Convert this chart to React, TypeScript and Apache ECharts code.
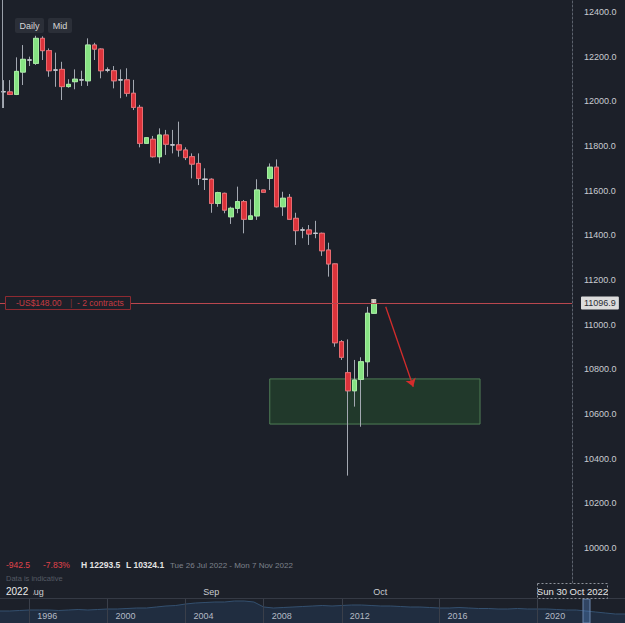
import React, { useEffect, useRef } from 'react';
import * as echarts from 'echarts';

// ---------- data ----------
const START_DATE = [2022, 6, 26]; // Tue 26 Jul 2022 (month is 0-based)
const SLOT_COUNT = 88; // daily slots (Saturdays skipped) shown on the axis
const CROSSHAIR_SLOT = 80; // month labels from here on sit under the crosshair box

const opens = [
  12043, 12042, 12031, 12131, 12185, 12170, 12282, 12227, 12140, 12143,
  12066, 12088, 12096, 12092, 12252, 12234, 12140, 12137, 12096, 12096,
  12036, 11973, 11812, 11830, 11752, 11849, 11805, 11805, 11782, 11752,
  11722, 11651, 11651, 11543, 11588, 11483, 11521, 11551, 11472, 11487,
  11603, 11655, 11705, 11528, 11570, 11476, 11424, 11424, 11409, 11409,
  11334, 11272, 10924, 10785, 10704, 10755, 10834, 11051,
];
const closes = [
  12043, 12031, 12134, 12188, 12185, 12282, 12227, 12137, 12140, 12066,
  12076, 12099, 12096, 12252, 12234, 12137, 12140, 12092, 12096, 12036,
  11973, 11812, 11837, 11752, 11849, 11808, 11805, 11782, 11748, 11719,
  11655, 11651, 11543, 11591, 11513, 11521, 11551, 11472, 11487, 11603,
  11593, 11705, 11528, 11566, 11472, 11421, 11424, 11406, 11409, 11331,
  11272, 10919, 10854, 10704, 10752, 10834, 11051, 11094.5,
];
const lows = [
  11970, 12028, 12028, 12073, 12158, 12163, 12185, 12110, 12065, 12006,
  12061, 12054, 12069, 12069, 12185, 12103, 12130, 12058, 12014, 12021,
  11961, 11794, 11810, 11748, 11722, 11760, 11767, 11752, 11737, 11655,
  11625, 11603, 11501, 11528, 11499, 11451, 11499, 11409, 11469, 11469,
  11593, 11603, 11525, 11487, 11469, 11357, 11387, 11357, 11387, 11308,
  11215, 10901, 10842, 10324.1, 10633, 10543, 10767, 11048,
];
const highs = [
  12095, 12095, 12197, 12252, 12200, 12293.5, 12291, 12237, 12218, 12177,
  12099, 12143, 12137, 12282, 12262, 12237, 12152, 12158, 12143, 12148,
  12096, 11984, 11840, 11845, 11879, 11872, 11872, 11909, 11794, 11767,
  11767, 11700, 11655, 11595, 11591, 11528, 11618, 11558, 11561, 11651,
  11603, 11722, 11740, 11595, 11585, 11501, 11436, 11446, 11465, 11412,
  11367, 11274, 10931, 10934, 10842, 10854, 11080, 11110,
];

const positionPrice = 11096.9;
const positionPnl = '-US$148.00';
const positionSize = '- 2 contracts';
const entryMarker = [57, 11106];

const zoneFrom = 41.0;
const zoneTo = 73.35;
const zoneTop = 10757;
const zoneBottom = 10555;
const arrowFrom = [58.84, 11080];
const arrowTo = [63.08, 10722];

const Y_MIN = 9843.3;
const Y_MAX = 12453.7;

const infoChange = '-942.5';
const infoChangePct = '-7.83%';
const infoHigh = 'H 12293.5';
const infoLow = 'L 10324.1';
const infoRange = 'Tue 26 Jul 2022 - Mon 7 Nov 2022';
const crosshairLabel = 'Sun 30 Oct 2022';

// navigator (long-history overview)
const navHeights = [
  12, 12, 12.5, 13, 13, 13, 12.5, 13, 13.5, 13, 13.5,
  14, 14, 14.5, 15, 15, 16, 17, 17.5,
  19, 20, 20.5, 21, 21, 22, 22, 21,
  16,
  15, 15.5, 16, 16.5, 17, 17.5, 17,
  17.5, 18, 18, 17.5, 17, 17, 16.5, 16, 16, 15.5,
  15, 15, 15.5, 15, 14.5, 14.5, 14, 14, 14.5, 14,
  14, 14, 13.5, 13, 13, 12, 11, 10, 9, 9,
];
const navYearIndex = [3, 11, 19, 27, 35, 45, 55];
const navYearLabel = ['1996', '2000', '2004', '2008', '2012', '2016', '2020'];

// ---------- styling ----------
const BG = '#1c2029';
const FONT = '"Liberation Sans", Arial, sans-serif';
const UP = '#86e283';
const UP_BORDER = '#a6eea0';
const DOWN = '#dc333b';
const DOWN_BORDER = '#e86a6f';
const WICK = '#a3a8b1';
const AXIS_TXT = '#c9ccd1';

const MONTHS = ['Jan', 'Feb', 'Mar', 'Apr', 'May', 'Jun', 'Jul', 'Aug', 'Sep', 'Oct', 'Nov', 'Dec'];

function buildDates(): Date[] {
  const out: Date[] = [];
  const d = new Date(Date.UTC(START_DATE[0], START_DATE[1], START_DATE[2]));
  while (out.length < SLOT_COUNT) {
    if (d.getUTCDay() !== 6) out.push(new Date(d.getTime()));
    d.setUTCDate(d.getUTCDate() + 1);
  }
  return out;
}

function txt(x: number, y: number, text: string, fill: string, size: number, opts: any = {}) {
  const align = opts.align || 'left';
  return {
    type: 'text',
    x,
    y,
    silent: true,
    z: opts.z || 50,
    style: {
      text,
      fill,
      fontSize: size,
      fontFamily: FONT,
      fontWeight: opts.weight || 'normal',
      align,
      textAlign: align,
      verticalAlign: 'middle',
      textVerticalAlign: 'middle',
      ...(opts.style || {}),
    },
  };
}

export default function App() {
  const ref = useRef<HTMLDivElement>(null);

  useEffect(() => {
    document.body.style.margin = '0';
    document.body.style.background = BG;
    if (!ref.current) return;
    const chart = echarts.init(ref.current, null, { renderer: 'svg' });

    const dates = buildDates();
    const cats = dates.map((d) => d.toISOString().slice(0, 10));
    const wickData = opens.map((o, i) => [o, closes[i], lows[i], highs[i]]);
    const bodyData = opens.map((o, i) => [
      o,
      closes[i],
      Math.min(o, closes[i]),
      Math.max(o, closes[i]),
    ]);

    const navCats = navHeights.map((_, i) => {
      const k = navYearIndex.indexOf(i);
      return k >= 0 ? navYearLabel[k] : '';
    });

    const graphic: any[] = [
      // left edge marker line
      { type: 'line', shape: { x1: 2.5, y1: 0, x2: 2.5, y2: 108 }, style: { stroke: '#9aa0a9', lineWidth: 1 }, z: 30, silent: true },
      // top-left buttons
      { type: 'rect', shape: { x: 15, y: 18, width: 29, height: 15, r: 2 }, style: { fill: '#2b2f38' }, z: 40, silent: true },
      txt(29.5, 25.5, 'Daily', '#d6d6d6', 9, { align: 'center' }),
      { type: 'rect', shape: { x: 48, y: 18, width: 24, height: 15, r: 2 }, style: { fill: '#2b2f38' }, z: 40, silent: true },
      txt(60, 25.5, 'Mid', '#d6d6d6', 9, { align: 'center' }),
      // position label
      { type: 'rect', shape: { x: 5.5, y: 296.5, width: 125, height: 13 }, style: { fill: BG, stroke: '#8e2a31', lineWidth: 1 }, z: 40, silent: true },
      txt(16, 303, positionPnl, '#c63b42', 8.5),
      txt(70, 303, '|', '#7a3036', 9),
      txt(77, 303, positionSize, '#c63b42', 8.5),
      // info row
      txt(6, 565, infoChange, '#e0434b', 8.5),
      txt(43, 565, infoChangePct, '#e0434b', 8.5),
      txt(81, 565, infoHigh, '#e3e3e3', 8.5, { weight: 'bold' }),
      txt(126, 565, infoLow, '#e3e3e3', 8.5, { weight: 'bold' }),
      txt(170, 565, infoRange, '#7d828c', 8),
      txt(6, 578, 'Data is indicative', '#545a64', 7.5),
      // year on the time axis
      txt(5, 591.5, '2022', '#ececec', 10, { z: 60, style: { backgroundColor: BG, padding: [1, 5, 1, 1] } }),
      // crosshair date box
      { type: 'rect', shape: { x: 537.5, y: 583.5, width: 70, height: 15 }, style: { fill: BG, stroke: '#8d929b', lineWidth: 1, lineDash: [2, 2] }, z: 55, silent: true },
      txt(572.5, 591, crosshairLabel, '#e6e6e6', 9.5, { align: 'center', z: 56 }),
      // navigator frame + window
      { type: 'line', shape: { x1: 0, y1: 598.5, x2: 625, y2: 598.5 }, style: { stroke: '#353a45', lineWidth: 1 }, z: 30, silent: true },
      { type: 'rect', shape: { x: 583, y: 599, width: 7, height: 24 }, style: { fill: 'rgba(90,140,210,0.35)', stroke: '#6a86ad', lineWidth: 1 }, z: 30, silent: true },
    ];

    chart.setOption({
      animation: false,
      backgroundColor: BG,
      textStyle: { fontFamily: FONT },
      grid: [
        { left: 0, right: 53, top: 0, bottom: 40 },
        { left: 0, right: 0, top: 599, height: 24 },
      ],
      xAxis: [
        {
          type: 'category',
          gridIndex: 0,
          data: cats,
          boundaryGap: true,
          axisLine: { show: false },
          axisTick: { show: false },
          splitLine: { show: false },
          axisLabel: {
            color: AXIS_TXT,
            fontSize: 9,
            margin: 4,
            interval: (i: number) =>
              i > 0 && i < CROSSHAIR_SLOT && dates[i].getUTCMonth() !== dates[i - 1].getUTCMonth(),
            formatter: (_v: string, i: number) => MONTHS[dates[i].getUTCMonth()],
          },
        },
        {
          type: 'value',
          gridIndex: 0,
          min: -0.5,
          max: SLOT_COUNT - 0.5,
          show: false,
        },
        {
          type: 'category',
          gridIndex: 1,
          data: navCats,
          boundaryGap: false,
          z: 10,
          axisLine: { show: false },
          axisTick: { show: false },
          axisLabel: {
            inside: true,
            color: '#b4bac4',
            fontSize: 9,
            margin: 3,
            align: 'left',
            padding: [0, 0, 0, 8],
            interval: (_i: number, v: string) => v !== '',
          },
          splitLine: {
            show: true,
            interval: (_i: number, v: string) => v !== '',
            lineStyle: { color: '#3a3f4a', width: 1 },
          },
        },
      ],
      yAxis: [
        {
          type: 'value',
          gridIndex: 0,
          position: 'right',
          min: Y_MIN,
          max: Y_MAX,
          splitNumber: 13,
          minInterval: 200,
          maxInterval: 200,
          axisLine: { show: true, onZero: false, lineStyle: { color: '#5c626d', type: [2, 2], width: 1 } },
          axisTick: { show: false },
          splitLine: { show: false },
          axisLabel: {
            color: AXIS_TXT,
            fontSize: 9,
            margin: 12,
            showMinLabel: false,
            showMaxLabel: false,
            formatter: (v: number) => (Math.abs(v % 200) < 0.01 ? v.toFixed(1) : ''),
          },
        },
        {
          type: 'value',
          gridIndex: 1,
          min: 0,
          max: 24,
          show: false,
        },
      ],
      series: [
        {
          type: 'line',
          xAxisIndex: 1,
          yAxisIndex: 0,
          data: [],
          silent: true,
          markArea: {
            silent: true,
            itemStyle: { color: '#21392b', borderColor: '#4f7e56', borderWidth: 1 },
            data: [[{ coord: [zoneFrom, zoneTop] }, { coord: [zoneTo, zoneBottom] }]],
          },
        },
        {
          type: 'candlestick',
          xAxisIndex: 0,
          yAxisIndex: 0,
          barWidth: 5,
          silent: true,
          data: wickData,
          itemStyle: {
            color: 'rgba(0,0,0,0)',
            color0: 'rgba(0,0,0,0)',
            borderColor: WICK,
            borderColor0: WICK,
            borderColorDoji: WICK,
            borderWidth: 1,
          },
        },
        {
          type: 'candlestick',
          xAxisIndex: 0,
          yAxisIndex: 0,
          barWidth: 5,
          silent: true,
          data: bodyData,
          itemStyle: {
            color: UP,
            color0: DOWN,
            borderColor: UP_BORDER,
            borderColor0: DOWN_BORDER,
            borderColorDoji: '#c9cdd3',
            borderWidth: 1,
          },
        },
        {
          type: 'scatter',
          xAxisIndex: 0,
          yAxisIndex: 0,
          silent: true,
          symbol: 'rect',
          symbolSize: [5, 4],
          itemStyle: { color: '#f1e6da' },
          data: [entryMarker],
          z: 4,
        },
        {
          type: 'line',
          xAxisIndex: 1,
          yAxisIndex: 0,
          data: [],
          silent: true,
          markLine: {
            silent: true,
            symbol: ['none', 'arrow'],
            symbolSize: [8, 8],
            label: { show: false },
            lineStyle: { color: '#d42c2c', width: 1.3, type: 'solid' },
            data: [[{ coord: arrowFrom }, { coord: arrowTo }]],
          },
        },
        {
          type: 'line',
          xAxisIndex: 1,
          yAxisIndex: 0,
          data: [],
          silent: true,
          markLine: {
            silent: true,
            symbol: ['none', 'none'],
            lineStyle: { color: '#b9474e', width: 1, type: 'solid' },
            label: {
              show: true,
              position: 'end',
              distance: 9,
              formatter: positionPrice.toFixed(1),
              color: '#2a2d33',
              backgroundColor: '#dcdcdc',
              padding: [2, 3, 2, 3],
              fontSize: 9,
              borderRadius: 1,
            },
            data: [[{ coord: [-0.5, positionPrice] }, { coord: [SLOT_COUNT - 0.5, positionPrice] }]],
          },
        },
        {
          type: 'line',
          xAxisIndex: 2,
          yAxisIndex: 1,
          data: navHeights,
          silent: true,
          symbol: 'none',
          z: 1,
          lineStyle: { color: '#34506f', width: 1 },
          areaStyle: { color: '#22334a' },
        },
      ],
      graphic,
    });

    return () => chart.dispose();
  }, []);

  return <div ref={ref} style={{ width: 625, height: 623 }} />;
}
